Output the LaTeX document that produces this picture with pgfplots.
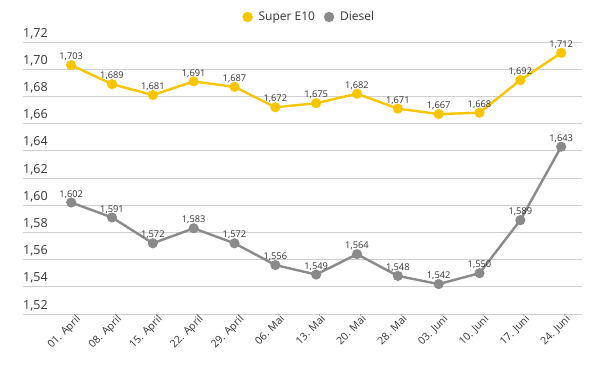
\documentclass[border=0pt]{standalone}
\usepackage{pgfplots}
\pgfplotsset{compat=1.18}
\usepackage{fontspec}
\setmainfont{Open Sans}
\definecolor{cyel}{HTML}{F7C600}
\definecolor{cgry}{HTML}{8A8A8A}
\definecolor{cgrid}{HTML}{CFCFCF}
\definecolor{ctxt}{HTML}{333333}
\begin{document}
\begin{tikzpicture}
\useasboundingbox (-23pt,-53pt) rectangle (587pt,314pt);
\begin{axis}[
  scale only axis, width=559pt, height=272pt,
  xmin=-1.18, xmax=12.51, ymin=1.52, ymax=1.72,
  clip=false,
  axis line style={draw=none},
  major tick length=0pt,
  ymajorgrids, grid style={cgrid, line width=0.9pt},
  ytick={1.52,1.54,...,1.721},
  yticklabel style={anchor=south west, inner sep=0pt, yshift=3pt, font=\fontsize{12.5}{14}\selectfont, text=ctxt,
    /pgf/number format/.cd, fixed, fixed zerofill, precision=2, use comma, assume math mode=true},
  xtick={0,...,12},
  xticklabels={01. April,08. April,15. April,22. April,29. April,06. Mai,13. Mai,20. Mai,28. Mai,03. Juni,10. Juni,17. Juni,24. Juni},
  xticklabel style={rotate=45, anchor=north east, inner sep=1pt, font=\fontsize{10.5}{12}\selectfont, text=ctxt, xshift=4pt, yshift=-2pt},
  nodes near coords,
  point meta=y,
  every node near coord/.append style={font=\fontsize{9.3}{11}\selectfont, text=ctxt, inner sep=1pt, yshift=2pt,
    /pgf/number format/.cd, fixed, fixed zerofill, precision=3, use comma, assume math mode=true},
  legend style={draw=none, at={(0.506,1.092)}, anchor=center, legend columns=2,
    font=\fontsize{12}{14}\selectfont, text=ctxt},
  legend image code/.code={\path[draw=none,fill=none] (-12pt,-1pt) rectangle (9pt,1pt); \fill[#1, draw=none] (0pt,0pt) circle (5.2pt);},
]
\addplot[cyel, line width=2.4pt, mark=*, mark size=3.8pt, mark options={fill=cyel, draw=cyel}] coordinates {
(0,1.703) (1,1.689) (2,1.681) (3,1.691) (4,1.687) (5,1.672) (6,1.675) (7,1.682) (8,1.671) (9,1.667) (10,1.668) (11,1.692) (12,1.712)};
\addlegendentry{Super E10}
\addplot[cgry, line width=2.4pt, mark=*, mark size=3.8pt, mark options={fill=cgry, draw=cgry}] coordinates {
(0,1.602) (1,1.591) (2,1.572) (3,1.583) (4,1.572) (5,1.556) (6,1.549) (7,1.564) (8,1.548) (9,1.542) (10,1.550) (11,1.589) (12,1.643)};
\addlegendentry{Diesel}
\end{axis}
\end{tikzpicture}
\end{document}
